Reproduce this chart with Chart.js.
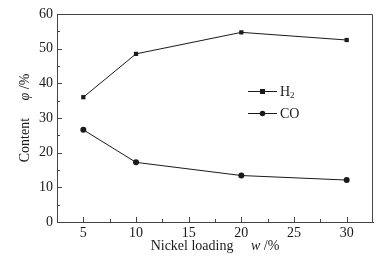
<!DOCTYPE html>
<html lang="en">
<head>
    <meta charset="UTF-8">
    <title>Nickel loading vs content</title>
    <script src="https://cdn.jsdelivr.net/npm/chart.js"></script>
    <style>
        body { margin: 0; background: #fff; }
        #wrap { width: 385px; height: 267px; }
    </style>
</head>
<body>
    <div id="wrap"><canvas id="chart"></canvas></div>
    <script>
        const loading = [5, 10, 20, 30];
        const h2 = [36.0, 48.5, 54.7, 52.5];
        const co = [26.6, 17.2, 13.4, 12.1];
        const xTicks = [5, 10, 15, 20, 25, 30];
        const yTicks = [0, 10, 20, 30, 40, 50, 60];

        const serif = 'Liberation Serif';
        const ink = '#1a1a1a';

        // draw a run of [text, italic] pieces starting at x (left aligned)
        function drawRun(ctx, parts, x, y) {
            parts.forEach(([t, it]) => {
                ctx.font = (it ? 'italic ' : '') + '14px ' + serif;
                ctx.fillText(t, x, y);
                x += ctx.measureText(t).width;
            });
        }
        function runWidth(ctx, parts) {
            return parts.reduce((w, [t, it]) => {
                ctx.font = (it ? 'italic ' : '') + '14px ' + serif;
                return w + ctx.measureText(t).width;
            }, 0);
        }

        // inward ticks, axis titles with italic symbols, in-plot legend
        const extras = {
            id: 'extras',
            afterDraw(chart) {
                const ctx = chart.ctx;
                const x = chart.scales.x, y = chart.scales.y;
                const a = chart.chartArea;
                ctx.save();
                ctx.strokeStyle = '#444';
                ctx.lineWidth = 1;
                ctx.beginPath();
                for (let v = 5; v <= 30; v += 2.5) {
                    const px = Math.round(x.getPixelForValue(v)) + 0.5;
                    const len = v % 5 === 0 ? 5 : 3;
                    ctx.moveTo(px, a.bottom);
                    ctx.lineTo(px, a.bottom - len);
                }
                for (let v = 0; v <= 60; v += 5) {
                    const py = Math.round(y.getPixelForValue(v)) + 0.5;
                    const len = v % 10 === 0 ? 5 : 3;
                    ctx.moveTo(a.left, py);
                    ctx.lineTo(a.left + len, py);
                }
                ctx.stroke();

                // axis titles
                ctx.fillStyle = ink;
                ctx.textBaseline = 'middle';
                ctx.textAlign = 'left';
                const xt = [['Nickel loading', false], ['     ', false], ['w', true], [' /%', false]];
                const cx = (a.left + a.right) / 2;
                drawRun(ctx, xt, cx - runWidth(ctx, xt) / 2, 246);

                const yt = [['Content', false], ['     ', false], ['φ', true], [' /%', false]];
                ctx.save();
                ctx.translate(25, (a.top + a.bottom) / 2);
                ctx.rotate(-Math.PI / 2);
                drawRun(ctx, yt, -runWidth(ctx, yt) / 2, 0);
                ctx.restore();

                // legend
                const items = [
                    { label: 'H', sub: '2', style: 'rect' },
                    { label: 'CO', sub: '', style: 'circle' }
                ];
                const lx = 248, ly = 91;
                items.forEach((it, i) => {
                    const yy = ly + i * 22;
                    ctx.strokeStyle = ink;
                    ctx.beginPath();
                    ctx.moveTo(lx, yy + 0.5);
                    ctx.lineTo(lx + 29, yy + 0.5);
                    ctx.stroke();
                    ctx.fillStyle = ink;
                    if (it.style === 'rect') {
                        ctx.fillRect(lx + 12, yy - 2, 5, 5);
                    } else {
                        ctx.beginPath();
                        ctx.arc(lx + 14.5, yy + 0.5, 2.8, 0, Math.PI * 2);
                        ctx.fill();
                    }
                    ctx.font = '14px ' + serif;
                    ctx.fillText(it.label, lx + 32, yy + 1);
                    if (it.sub) {
                        const w = ctx.measureText(it.label).width;
                        ctx.font = '9px ' + serif;
                        ctx.fillText(it.sub, lx + 32 + w, yy + 5);
                    }
                });
                ctx.restore();
            }
        };

        new Chart(document.getElementById('chart'), {
            type: 'line',
            data: {
                datasets: [
                    {
                        label: 'H2',
                        data: loading.map((v, i) => ({ x: v, y: h2[i] })),
                        borderColor: ink,
                        backgroundColor: ink,
                        borderWidth: 1,
                        pointStyle: 'rect',
                        pointRadius: 3,
                        pointBorderWidth: 0
                    },
                    {
                        label: 'CO',
                        data: loading.map((v, i) => ({ x: v, y: co[i] })),
                        borderColor: ink,
                        backgroundColor: ink,
                        borderWidth: 1,
                        pointStyle: 'circle',
                        pointRadius: 3,
                        pointBorderWidth: 0
                    }
                ]
            },
            options: {
                responsive: true,
                maintainAspectRatio: false,
                animation: false,
                layout: { padding: { top: 14, right: 12, bottom: 0, left: 0 } },
                plugins: { legend: { display: false }, tooltip: { enabled: false } },
                scales: {
                    x: {
                        type: 'linear',
                        min: 2.5,
                        max: 32.5,
                        afterBuildTicks: s => { s.ticks = xTicks.map(v => ({ value: v })); },
                        afterFit: s => { s.height = 45; },
                        grid: { display: false, drawTicks: false },
                        border: { display: true, color: '#444' },
                        ticks: { color: ink, font: { family: serif, size: 14 }, padding: 3, maxRotation: 0 }
                    },
                    y: {
                        min: 0,
                        max: 60,
                        afterBuildTicks: s => { s.ticks = yTicks.map(v => ({ value: v })); },
                        afterFit: s => { s.width = 57; },
                        grid: { display: false, drawTicks: false },
                        border: { display: true, color: '#444' },
                        ticks: { color: ink, font: { family: serif, size: 14 }, padding: 4 }
                    }
                }
            },
            plugins: [
                {
                    id: 'frame',
                    afterDatasetsDraw(chart) {
                        const a = chart.chartArea, ctx = chart.ctx;
                        ctx.save();
                        ctx.strokeStyle = '#444';
                        ctx.lineWidth = 1;
                        ctx.beginPath();
                        ctx.moveTo(a.left, a.top + 0.5);
                        ctx.lineTo(a.right - 0.5, a.top + 0.5);
                        ctx.lineTo(a.right - 0.5, a.bottom);
                        ctx.stroke();
                        ctx.restore();
                    }
                },
                extras
            ]
        });
    </script>
</body>
</html>
